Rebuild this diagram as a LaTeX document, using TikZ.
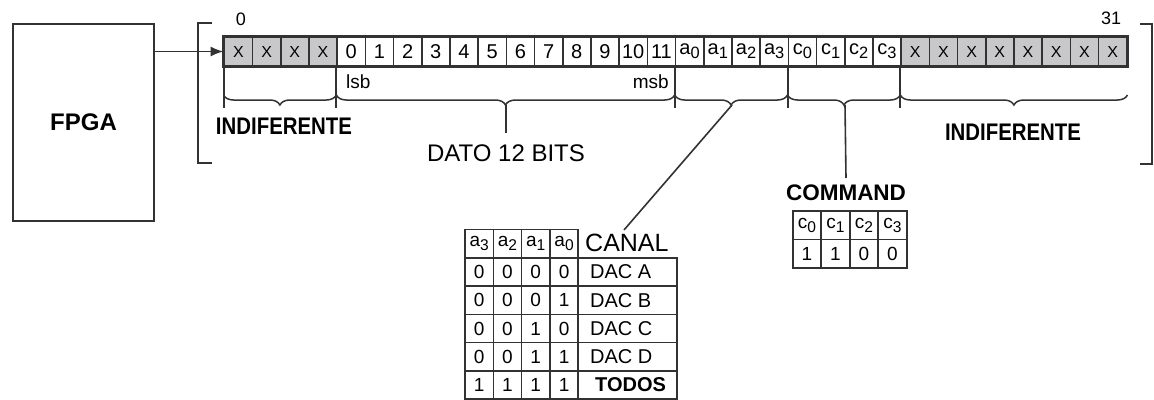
\documentclass[tikz,border=0pt]{standalone}
\usepackage{fontspec}
\setmainfont{Liberation Sans}
\usetikzlibrary{decorations.pathreplacing,arrows.meta}
\definecolor{ln}{RGB}{50,50,50}
\definecolor{xg}{RGB}{200,200,202}
\newcommand{\sbx}[1]{\raisebox{-0.4ex}{\scalebox{0.82}{#1}}}
\newcommand{\fs}[1]{\fontsize{#1}{#1}\selectfont}
\begin{document}
\begin{tikzpicture}[x=1pt,y=-1pt,line join=miter,
  cell/.style={draw=ln,line width=1.6pt,minimum width=28.2pt,minimum height=28.4pt,inner sep=0pt,font=\fs{20}},
  xcell/.style={cell,fill=xg,font=\fs{16}},
  tcell/.style={draw=ln,line width=1.6pt,minimum width=28.3pt,minimum height=28.3pt,inner sep=0pt,font=\fs{19}},
  lcell/.style={draw=ln,line width=1.6pt,minimum width=98.7pt,minimum height=28.3pt,inner sep=0pt},
  ccell/.style={draw=ln,line width=1.6pt,minimum width=28.5pt,minimum height=28.6pt,inner sep=0pt,font=\fs{19}},
  brc/.style={decorate,decoration={brace,amplitude=10pt,mirror},draw=ln,line width=1.5pt},
  wire/.style={draw=ln,line width=1.6pt},
  bold/.style={font=\fs{24}\bfseries,inner sep=0pt}]
\useasboundingbox (0,0) rectangle (1154,399);

% FPGA block
\node[draw=ln,line width=2.5pt,minimum width=141pt,minimum height=197pt,inner sep=0pt,font=\fs{24}\bfseries] (fpga) at (83.5,122.5) {FPGA};

% brackets
\draw[ln,line width=2.3pt] (212,23) -- (198,23) -- (198,163) -- (212,163);
\draw[ln,line width=2.3pt] (1140,24) -- (1152,24) -- (1152,164) -- (1140,164);

% register cells
\foreach \i in {0,1,2,3,24,25,26,27,28,29,30,31}
  \node[xcell] (c\i) at ({224.3+(\i+0.5)*28.2},51.5) {X};
\foreach \i in {4,...,15}{
  \pgfmathtruncatemacro\d{\i-4}
  \node[cell] (c\i) at ({224.3+(\i+0.5)*28.2},51.5) {\d};}
\foreach \i/\t in {16/a\sbx{0},17/a\sbx{1},18/a\sbx{2},19/a\sbx{3},20/c\sbx{0},21/c\sbx{1},22/c\sbx{2},23/c\sbx{3}}
  \node[cell] (c\i) at ({224.3+(\i+0.5)*28.2},51.5) {\t};
\draw[ln,line width=2.6pt] (c0.north west) rectangle (c31.south east);

% bit numbers
\node[font=\fs{18},inner sep=0pt] (n0) at (241,19) {0};
\node[font=\fs{18},inner sep=0pt] (n31) at (1111,18) {31};

% arrow FPGA -> register
\draw[ln,line width=1.6pt,-{Latex[length=13pt,width=10pt]}] (fpga.east |- c0.west) -- (c0.west);

% label area lines
\draw[ln,line width=2pt] (c0.south west) -- (c0.south west |- 0,108);
\foreach \i in {4,16,20,24}
  \draw[ln,line width=2pt] (c\i.south west) -- (c\i.south west |- 0,108);

\node[font=\fs{19},inner sep=0pt,anchor=west] (lsb) at (346,82) {lsb};
\node[font=\fs{19},inner sep=0pt,anchor=east] (msb) at (669,82) {msb};

% braces
\draw[brc] (c0.south west |- 0,95) -- (c4.south west |- 0,95);
\draw[brc] (c4.south west |- 0,95) -- (c16.south west |- 0,95);
\draw[brc] (c16.south west |- 0,95) -- (c20.south west |- 0,95);
\draw[brc] (c20.south west |- 0,95) -- (c24.south west |- 0,95);
\draw[brc] (c24.south west |- 0,95) -- (c31.south east |- 0,95);

\coordinate (t2) at (506,105);
\coordinate (t3) at (732,105);
\coordinate (t4) at (845,105);

% labels
\node[bold] (ind1) at (284,126) {\scalebox{0.85}[1]{INDIFERENTE}};
\node[bold] (ind2) at (1013,132) {\scalebox{0.85}[1]{INDIFERENTE}};
\node[font=\fs{24},anchor=north,inner xsep=0pt,inner ysep=12pt] (dato) at (506,133) {DATO 12 BITS};
\node[font=\fs{22.5}\bfseries,anchor=north,inner xsep=0pt,inner ysep=7pt] (cmd) at (846,178) {COMMAND};

\draw[wire] (t2) -- (dato.north);
\draw[wire] (t4) -- (cmd.north);

% CANAL table
\foreach \j/\t in {0/a\sbx{3},1/a\sbx{2},2/a\sbx{1},3/a\sbx{0}}
  \node[tcell] (h\j) at ({465+(\j+0.5)*28.3},243.6) {\t};
\node[font=\fs{25},anchor=west,inner xsep=0pt,inner ysep=4pt] (canal) at (585,243) {CANAL};
\draw[wire] (t3) -- (canal.north west -| 624,0);
\foreach \r/\a/\b/\c/\e/\lab in {1/0/0/0/0/DAC A,2/0/0/0/1/DAC B,3/0/0/1/0/DAC C,4/0/0/1/1/DAC D}{
  \pgfmathsetmacro\yy{243.6+\r*28.3}
  \node[tcell] (r\r a) at (479.15,\yy) {\a};
  \node[tcell] (r\r b) at (507.45,\yy) {\b};
  \node[tcell] (r\r c) at (535.75,\yy) {\c};
  \node[tcell] (r\r d) at (564.05,\yy) {\e};
  \node[lcell] (r\r l) at (627.65,\yy) {};
  \node[font=\fs{20},anchor=west,inner sep=0pt] (r\r t) at (590,\yy) {\lab};
}
\foreach \k/\x in {a/479.15,b/507.45,c/535.75,d/564.05}
  \node[tcell] (r5\k) at (\x,385.1) {1};
\node[lcell] (r5l) at (627.65,385.1) {};
\node[font=\fs{20}\bfseries,anchor=west,inner sep=0pt] (r5t) at (595,385.1) {TODOS};

% COMMAND table
\foreach \j/\t in {0/c\sbx{0},1/c\sbx{1},2/c\sbx{2},3/c\sbx{3}}
  \node[ccell] (k\j) at ({792.7+(\j+0.5)*28.5},225.3) {\t};
\foreach \j/\t in {0/1,1/1,2/0,3/0}
  \node[ccell] (v\j) at ({792.7+(\j+0.5)*28.5},253.9) {\t};
\end{tikzpicture}
\end{document}
